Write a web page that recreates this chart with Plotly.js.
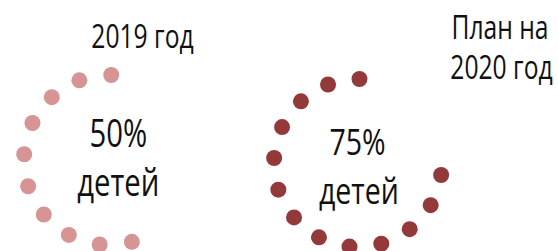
<!DOCTYPE html>
<html>
<head>
<meta charset="utf-8">
<script src="https://cdn.plot.ly/plotly-3.0.1.min.js"></script>
<style>
html,body{margin:0;padding:0;background:#fff;}
#chart{width:558px;height:251px;}
#chart text.annotation-text{
  transform-box: fill-box;
  transform-origin: center;
  transform: scaleX(0.77);
}
</style>
</head>
<body>
<div id="chart"></div>
<script>
// Data
var years = ["2019 год", "План на", "2020 год"];
var percentLabels = ["50%", "75%"];
var unitLabel = "детей";
var dotCounts = [10, 13];
var startAngles = [88.5, 89];
var dotColors = ["#D69494", "#933939"];

var STEP = 21.9;
function thetas(n, start) {
  var out = [];
  for (var i = 0; i < n; i++) out.push(start + i * STEP);
  return out;
}
function ones(n) { var o = []; for (var i = 0; i < n; i++) o.push(1); return o; }

var W = 558, H = 251;
function px(x) { return x / W; }
function py(y) { return 1 - y / H; }

var traces = [];
for (var k = 0; k < 2; k++) {
  traces.push({
    type: 'scatterpolar',
    mode: 'markers',
    r: ones(dotCounts[k]),
    theta: thetas(dotCounts[k], startAngles[k]),
    subplot: k === 0 ? 'polar' : 'polar2',
    marker: {size: 16, color: dotColors[k]},
    cliponaxis: false,
    hoverinfo: 'skip',
    showlegend: false
  });
}

var polarCommon = {
  bgcolor: 'rgba(0,0,0,0)',
  radialaxis: {visible: false, range: [0, 1]},
  angularaxis: {visible: false, rotation: 0, direction: 'counterclockwise'}
};
function polarAt(cx, cy, r) {
  var p = JSON.parse(JSON.stringify(polarCommon));
  p.domain = {x: [px(cx - r), px(cx + r)], y: [py(cy + r), py(cy - r)]};
  return p;
}

var FONT = '"Open Sans", "Noto Sans", sans-serif';
function ann(text, x, y, size) {
  return {text: text, x: px(x), y: py(y), xref: 'paper', yref: 'paper',
    xanchor: 'center', yanchor: 'middle', showarrow: false,
    font: {family: FONT, size: size, color: '#111'}};
}

var layout = {
  width: W, height: H,
  margin: {l: 0, r: 0, t: 0, b: 0},
  paper_bgcolor: '#fff',
  showlegend: false,
  polar: polarAt(109, 160, 85),
  polar2: polarAt(358, 163, 84),
  annotations: [
    ann(years[0], 142, 35, 32),
    ann(percentLabels[0], 118, 132, 38),
    ann(unitLabel, 118.5, 181, 38),
    ann(percentLabels[1], 358, 140, 37),
    ann(unitLabel, 359, 189, 37),
    ann(years[1], 500, 26, 32),
    ann(years[2], 501.5, 66, 32)
  ]
};

Plotly.newPlot('chart', traces, layout, {staticPlot: true, displayModeBar: false});
</script>
</body>
</html>
